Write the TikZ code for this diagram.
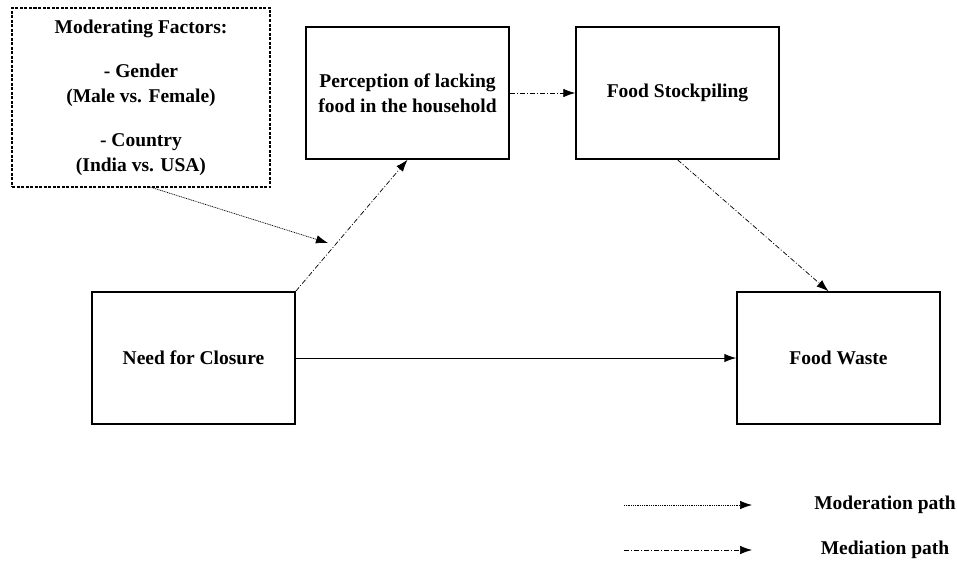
\documentclass[tikz,border=0pt]{standalone}
\usepackage{fontspec}
\setmainfont{Liberation Serif}
\usetikzlibrary{arrows.meta,positioning}
\begin{document}
\begin{tikzpicture}[x=1pt,y=-1pt,
  txt/.style={font=\fontsize{19.5}{25}\selectfont\bfseries, align=center},
  box/.style={draw, line width=1.5pt, minimum width=203pt, minimum height=132pt, txt, inner sep=0pt},
  tip/.style={-{Latex[length=12pt,width=8.5pt]}},
  medpath/.style={tip, line width=0.7pt, dash pattern=on 5pt off 2pt on 1pt off 2pt},
  modpath/.style={tip, line width=0.7pt, dash pattern=on 1pt off 0.8pt},
  direct/.style={tip, line width=1pt}]
\useasboundingbox (0,0) rectangle (957,562);
\node[draw, dash pattern=on 3pt off 1.5pt, line width=1.2pt, minimum width=258pt, minimum height=179pt, txt, inner sep=0pt] (mod) at (141,97.5)
  {Moderating Factors:\\[19pt]- Gender\\(Male vs. Female)\\[19pt]- Country\\(India vs. USA)};
\node[box] (perc) at (407.5,93) {Perception of lacking\\food in the household};
\node[box] (stock) at (677.5,93) {Food Stockpiling};
\node[box] (nfc) at (193.5,358) {Need for Closure};
\node[box] (waste) at (838.5,358) {Food Waste};
\coordinate (modstart) at (150,187);
\coordinate (modend) at (328,243);
\draw[modpath] (modstart) -- (modend);
\draw[medpath] (nfc.north east) -- (perc.south);
\draw[medpath] (perc.east) -- (stock.west);
\draw[medpath] (stock.south) -- ([xshift=-10pt]waste.north);
\draw[direct] (nfc.east) -- (waste.west);
% legend
\coordinate (l1a) at (624,505);
\coordinate (l1b) at (752,505);
\coordinate (l2a) at (624,550);
\coordinate (l2b) at (752,550);
\draw[modpath] (l1a) -- (l1b);
\draw[medpath] (l2a) -- (l2b);
\node[txt] (lmod) at (885,505) {Moderation path};
\node[txt] (lmed) at (885,550) {Mediation path};
\end{tikzpicture}
\end{document}
